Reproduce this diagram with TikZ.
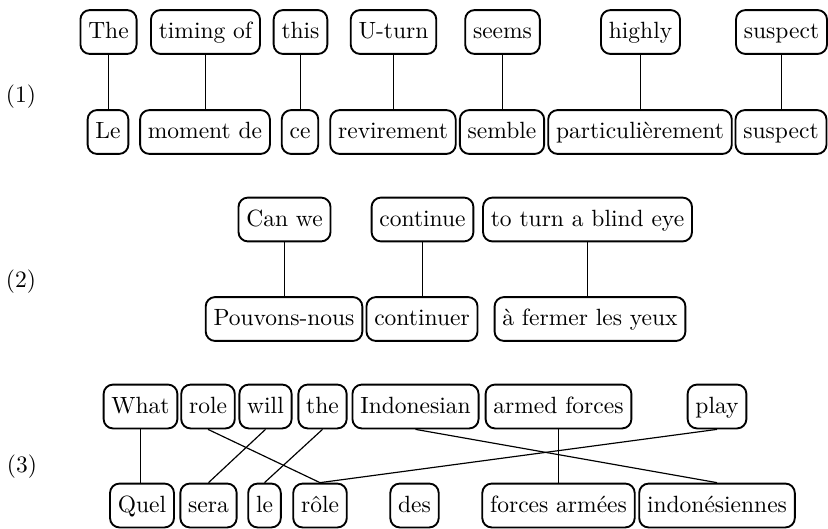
\documentclass[tikz,border=0pt]{standalone}
\begin{document}
\begin{tikzpicture}[x=0.4255pt,y=-0.4255pt,
  word/.style={draw,line width=0.8pt,rounded corners=4pt,inner sep=3.33pt,text height=8.8pt,text depth=3.2pt},
  link/.style={line width=0.5pt},
  tag/.style={inner sep=0pt}]
\useasboundingbox (0,0) rectangle (828,528);
% labels
\node[tag] (l1) at (21,97) {(1)};
\node[tag] (l2) at (21,282) {(2)};
\node[tag] (l3) at (22,467) {(3)};
% example 1
\node[word] (a1) at (108.5,32) {The};
\node[word] (a2) at (205.5,32) {timing of};
\node[word] (a3) at (300.5,32) {this};
\node[word] (a4) at (393.5,32) {U-turn};
\node[word] (a5) at (502.5,32) {seems};
\node[word] (a6) at (640.5,32) {highly};
\node[word] (a7) at (781.5,32) {suspect};
\node[word] (b1) at (108,132) {Le};
\node[word] (b2) at (205,132) {moment de};
\node[word] (b3) at (300,132) {ce};
\node[word] (b4) at (393,132) {revirement};
\node[word] (b5) at (502,132) {semble};
\node[word] (b6) at (640,132) {particulièrement};
\node[word] (b7) at (781,132) {suspect};
\foreach \i in {1,...,7} \draw[link] (a\i.south) -- (a\i.south |- b\i.north);
% example 2
\node[word] (c1) at (284.5,219.5) {Can we};
\node[word] (c2) at (422.5,219.5) {continue};
\node[word] (c3) at (587.5,219.5) {to turn a blind eye};
\node[word] (d1) at (284,319) {Pouvons-nous};
\node[word] (d2) at (422,319) {continuer};
\node[word] (d3) at (590,319) {à fermer les yeux};
\foreach \i in {1,2,3} \draw[link] (c\i.south) -- (c\i.south |- d\i.north);
% example 3
\node[word] (e1) at (140.5,406.5) {What};
\node[word] (e2) at (208,406.5) {role};
\node[word] (e3) at (265.5,406.5) {will};
\node[word] (e4) at (322.5,406.5) {the};
\node[word] (e5) at (415.5,406.5) {Indonesian};
\node[word] (e6) at (558.5,406.5) {armed forces};
\node[word] (e7) at (717,406.5) {play};
\node[word] (f1) at (142,505.5) {Quel};
\node[word] (f2) at (208.5,505.5) {sera};
\node[word] (f3) at (264.5,505.5) {le};
\node[word] (f4) at (320,505.5) {rôle};
\node[word] (f5) at (414.5,505.5) {des};
\node[word] (f6) at (558.5,505.5) {forces armées};
\node[word] (f7) at (717,505.5) {indonésiennes};
\draw[link] (e1.south) -- (e1.south |- f1.north);
\draw[link] (e2.south) -- (f4.north);
\draw[link] (e3.south) -- (f2.north);
\draw[link] (e4.south) -- (f3.north);
\draw[link] (e5.south) -- (f7.north);
\draw[link] (e6.south) -- (e6.south |- f6.north);
\draw[link] (e7.south) -- (f4.north);
\end{tikzpicture}
\end{document}
